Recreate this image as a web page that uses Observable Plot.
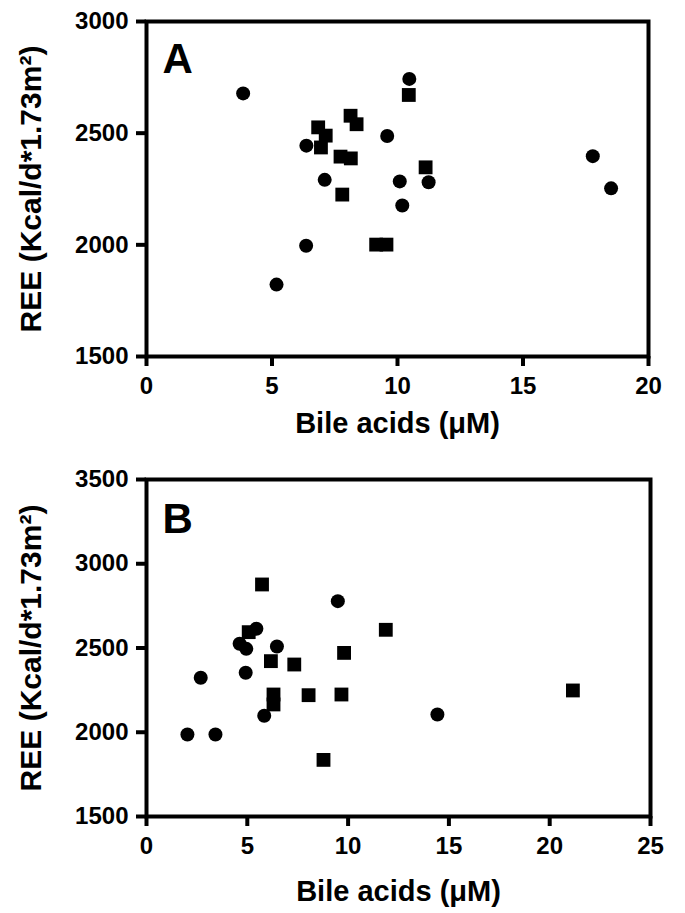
<!DOCTYPE html>
<html><head><meta charset="utf-8">
<script src="https://cdn.jsdelivr.net/npm/d3@7"></script>
<script src="https://cdn.jsdelivr.net/npm/@observablehq/plot@0.6"></script>
<style>body{margin:0;background:#fff;} svg{display:block;}</style>
</head><body><div id="chart"></div>
<script>
// Panel A
const aCircleX = [3.85, 10.47, 9.59, 6.37, 7.10, 10.09, 11.24, 10.19, 6.36, 5.18, 17.78, 18.51];
const aCircleY = [2678, 2743, 2487, 2444, 2291, 2284, 2280, 2176, 1996, 1822, 2397, 2253];
const aSquareX = [10.45, 8.13, 8.37, 6.84, 7.14, 6.95, 7.73, 8.14, 11.12, 7.80, 9.15, 9.56];
const aSquareY = [2671, 2578, 2540, 2526, 2489, 2436, 2395, 2387, 2347, 2225, 2001, 2001];
// Panel B
const bCircleX = [9.49, 5.45, 4.62, 4.95, 6.47, 4.92, 2.69, 5.84, 14.43, 2.03, 3.42];
const bCircleY = [2778, 2614, 2525, 2495, 2509, 2353, 2323, 2098, 2105, 1987, 1987];
const bSquareX = [5.73, 11.87, 5.07, 9.80, 6.17, 7.33, 6.30, 6.30, 8.04, 9.67, 8.78, 21.15];
const bSquareY = [2877, 2608, 2594, 2471, 2422, 2402, 2224, 2165, 2220, 2224, 1836, 2248];

const aXTicks = [0, 5, 10, 15, 20];
const aYTicks = [1500, 2000, 2500, 3000];
const bXTicks = [0, 5, 10, 15, 20, 25];
const bYTicks = [1500, 2000, 2500, 3000, 3500];
const xLabel = "Bile acids (\u03bcM)";
const yLabel = "REE (Kcal/d*1.73m\u00b2)";

function panel(o) {
  const circles = o.cx.map((x, i) => ({x, y: o.cy[i]}));
  const squares = o.sx.map((x, i) => ({x, y: o.sy[i]}));
  return Plot.plot({
    width: 685, height: o.height,
    marginLeft: 146, marginRight: o.marginRight, marginTop: o.marginTop, marginBottom: o.marginBottom,
    style: {fontFamily: "'Liberation Sans', Arial, sans-serif", fontWeight: "bold", fontSize: "24px", color: "black", background: "white", overflow: "visible"},
    x: {domain: o.xDomain},
    y: {domain: o.yDomain},
    marks: [
      Plot.frame({stroke: "black", strokeWidth: 4}),
      Plot.axisX({ticks: o.xTicks, tickSize: 10, tickPadding: 10, strokeWidth: 4, tickFormat: d => String(d), label: null, fontSize: 24, fontWeight: "bold"}),
      Plot.axisY({ticks: o.yTicks, tickSize: 10, tickPadding: 8, strokeWidth: 4, tickFormat: d => String(d), label: null, fontSize: 24, fontWeight: "bold"}),
      Plot.dot(circles, {x: "x", y: "y", r: 7, fill: "black", symbol: "circle"}),
      Plot.dot(squares, {x: "x", y: "y", r: 7.8, fill: "black", symbol: "square"}),
      Plot.text([o.letter], {text: d => d, frameAnchor: "top-left", dx: 16, dy: o.letterDy, lineAnchor: "top", textAnchor: "start", fontSize: 42, fontWeight: "bold"}),
      Plot.text([xLabel], {text: d => d, frameAnchor: "bottom", dy: o.xLabelDy, lineAnchor: "top", textAnchor: "middle", fontSize: 29, fontWeight: "bold"}),
      Plot.text([yLabel], {text: d => d, frameAnchor: "left", dx: -115, rotate: -90, textAnchor: "middle", lineAnchor: "middle", fontSize: 30, fontWeight: "bold"})
    ]
  });
}

const chart = document.getElementById("chart");
chart.append(panel({
  cx: aCircleX, cy: aCircleY, sx: aSquareX, sy: aSquareY,
  xDomain: [0, 20], yDomain: [1500, 3000], xTicks: aXTicks, yTicks: aYTicks,
  letter: "A", height: 440, marginTop: 21, marginBottom: 84, marginRight: 37,
  letterDy: 22, xLabelDy: 56
}));
chart.append(panel({
  cx: bCircleX, cy: bCircleY, sx: bSquareX, sy: bSquareY,
  xDomain: [0, 25], yDomain: [1500, 3500], xTicks: bXTicks, yTicks: bYTicks,
  letter: "B", height: 473, marginTop: 39, marginBottom: 97, marginRight: 35,
  letterDy: 24, xLabelDy: 64
}));
</script>
</body></html>
